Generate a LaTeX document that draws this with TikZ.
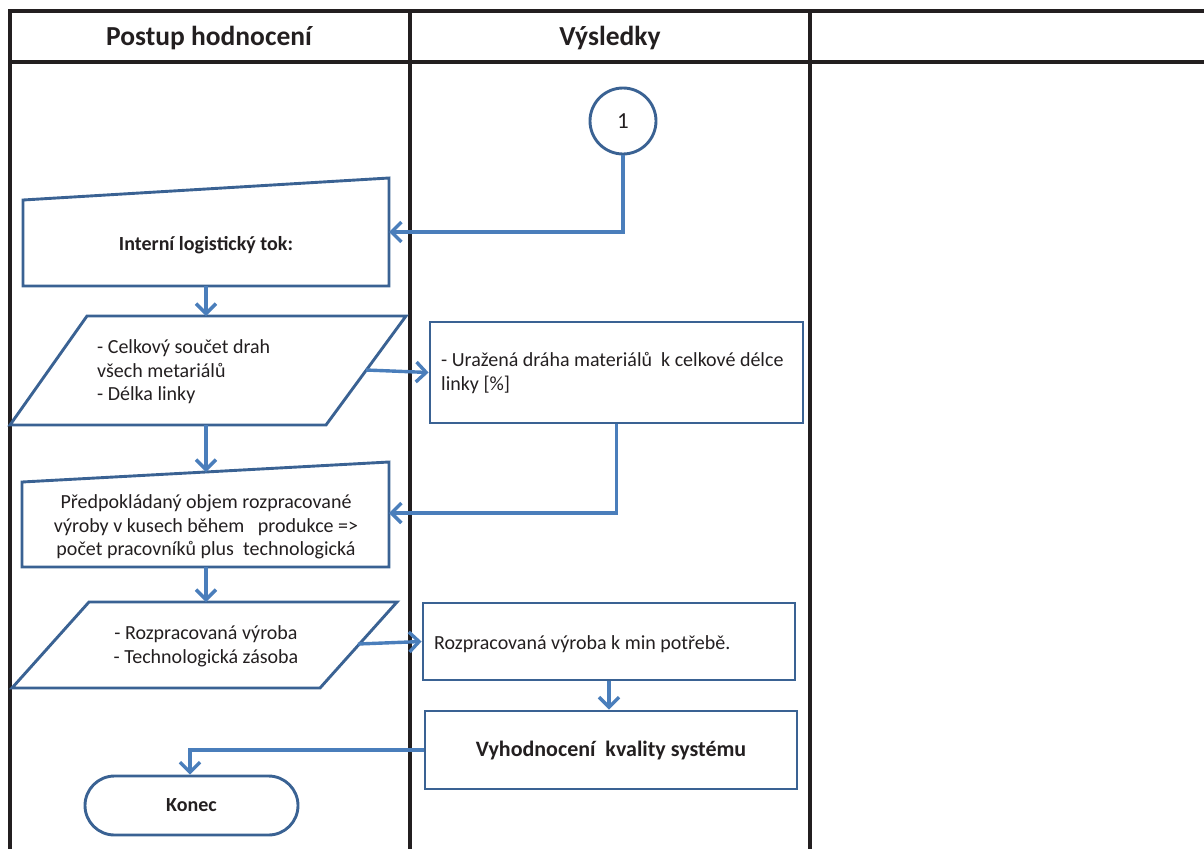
\documentclass[tikz,border=0pt]{standalone}
\usepackage{fontspec}
\setmainfont{Carlito}
\usetikzlibrary{arrows.meta}
\definecolor{gridline}{HTML}{231F20}
\definecolor{shapeblue}{HTML}{3A6293}
\definecolor{flowblue}{HTML}{4A7EBB}
\definecolor{inktext}{HTML}{231F20}
\tikzset{
  gridrule/.style={draw=gridline,line width=3.6pt},
  shapeline/.style={draw=shapeblue,line width=2.9pt,line join=miter},
  flow/.style={draw=flowblue,line width=3.4pt,-{Straight Barb[length=10pt,width=20pt,line width=3.4pt]}},
  body/.style={text=inktext,font=\fontsize{20}{23.6}\selectfont,inner sep=0pt},
  bodybold/.style={body,font=\fontsize{20}{23.6}\selectfont\bfseries},
  headtext/.style={text=inktext,font=\fontsize{27.5}{30}\selectfont\bfseries},
  boxed/.style={shapeline,rectangle,inner sep=0pt},
}
\begin{document}
\begin{tikzpicture}[x=1pt,y=-1pt]
\useasboundingbox (0,0) rectangle (1204,849);

% table grid
\draw[gridrule] (10,11) -- (1204,11);
\draw[gridrule] (10,62) -- (1204,62);
\draw[gridrule] (10,9.2) -- (10,849);
\draw[gridrule] (410,9.2) -- (410,849);
\draw[gridrule] (810,9.2) -- (810,849);
\node[headtext] (h1) at (209,38) {Postup hodnocení};
\node[headtext] (h2) at (610,38) {Výsledky};

% connector 1
\node[shapeline,circle,minimum size=66pt,inner sep=0pt,body,font=\fontsize{23}{26}\selectfont] (c1) at (623,121) {1};

% manual input: internal logistic flow
\draw[shapeline] (23,200) -- (389,178) -- (389,286) -- (23,286) -- cycle;
\coordinate (m1e) at (389,232);
\coordinate (m1s) at (206,286);
\node[bodybold] (m1) at (206,245) {Interní logistický tok:};

% data: path lengths
\draw[shapeline] (87,316) -- (406,316) -- (326,425) -- (10,425) -- cycle;
\coordinate (d1n) at (206,316);
\coordinate (d1e) at (366,370);
\coordinate (d1s) at (206,425);
\node[body,align=left,anchor=west] (d1) at (97,372) {- Celkový součet drah\\všech metariálů\\- Délka linky};

% result box: travelled distance
\node[boxed,minimum width=373pt,minimum height=101pt] (r1) at (616.5,372.5) {};
\node[body,align=left,anchor=west] (r1t) at (441,373) {- Uražená dráha materiálů \ k celkové délce\\linky [\%]};

% manual input: work in progress
\draw[shapeline] (22,482) -- (389,462) -- (389,567) -- (22,567) -- cycle;
\coordinate (m2n) at (206,472);
\coordinate (m2e) at (389,513);
\coordinate (m2s) at (206,567);
\node[body,align=center] (m2) at (206,527) {Předpokládaný objem rozpracované\\výroby v kusech během \ \ produkce =>\\počet pracovníků plus \ technologická};

% data: stock
\draw[shapeline] (89,602) -- (397,602) -- (320,688) -- (12,688) -- cycle;
\coordinate (d2n) at (206,602);
\coordinate (d2e) at (358,644);
\node[body,align=center] (d2) at (206,646) {- Rozpracovaná výroba\\- Technologická zásoba};

% result box: WIP vs minimum
\node[boxed,minimum width=372pt,minimum height=77pt] (r2) at (609,641.5) {};
\node[body,anchor=west] (r2t) at (434,644) {Rozpracovaná výroba k min potřebě.};

% evaluation box
\node[boxed,minimum width=372pt,minimum height=78pt,bodybold,font=\fontsize{22}{26}\selectfont\bfseries] (r3) at (611,750) {Vyhodnocení \ kvality systému};

% terminator
\node[shapeline,rectangle,rounded corners=29.5pt,minimum width=213pt,minimum height=59pt,bodybold] (end) at (191.5,805.5) {Konec};

% connectors
\draw[flow] (c1.south) |- (m1e);
\draw[flow] (m1s) -- (d1n);
\draw[flow] (d1e) -- (r1.west);
\draw[flow] (r1.south) |- (m2e);
\draw[flow] (d1s) -- (m2n);
\draw[flow] (m2s) -- (d2n);
\draw[flow] (d2e) -- (r2.west);
\draw[flow] (r2.south) -- (r3.north -| r2.south);
\draw[flow] (r3.west) -| (end.north -| 190,0);
\end{tikzpicture}
\end{document}
